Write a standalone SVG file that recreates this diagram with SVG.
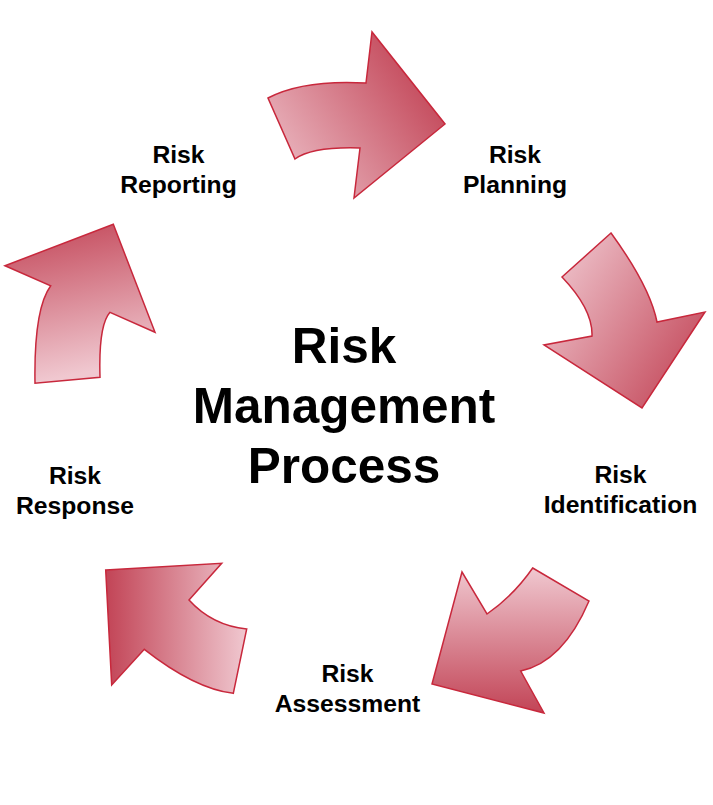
<svg xmlns="http://www.w3.org/2000/svg" width="713" height="805" viewBox="0 0 713 805">
<style>
.arrow{stroke:#c8283c;stroke-width:1.5;stroke-linejoin:miter}
.lbl{font-family:"Liberation Sans",Arial,sans-serif;font-weight:bold;font-size:24.7px;fill:#000;text-anchor:middle}
.title{font-family:"Liberation Sans",Arial,sans-serif;font-weight:bold;font-size:49.5px;fill:#000;text-anchor:middle}
</style>
<defs>
<linearGradient id="g1" x1="0" y1="1" x2="1" y2="0.35"><stop offset="0" stop-color="#f0c8d0"/><stop offset="1" stop-color="#c24456"/></linearGradient>
<linearGradient id="g2" x1="0" y1="0.15" x2="1" y2="0.85"><stop offset="0" stop-color="#f0c8d0"/><stop offset="1" stop-color="#c24456"/></linearGradient>
<linearGradient id="g3" x1="0" y1="0" x2="0" y2="1"><stop offset="0" stop-color="#f0c8d0"/><stop offset="1" stop-color="#c24456"/></linearGradient>
<linearGradient id="g4" x1="0" y1="0" x2="1" y2="0"><stop offset="0" stop-color="#c24456"/><stop offset="1" stop-color="#f0c8d0"/></linearGradient>
<linearGradient id="g5" x1="0" y1="0" x2="0.2" y2="1"><stop offset="0" stop-color="#c24456"/><stop offset="1" stop-color="#f0c8d0"/></linearGradient>
</defs>
<g id="connectors">
<path id="arrow-reporting-planning" class="arrow" fill="url(#g1)" d="M268,98 Q303,79.5 366,83 L372,32 L445,124 L354,198 L360,148 Q312.5,146.5 295,159 Z"/>
<path id="arrow-planning-identification" class="arrow" fill="url(#g2)" d="M611,233 L562,277 Q593,309.5 592,336 L544,345 L642,408 L705,312 L657,322 Q650,286.5 611,233 Z"/>
<path id="arrow-identification-assessment" class="arrow" fill="url(#g3)" d="M532.7,568 L589,601 Q563,662 520.7,671 L544,713 L432,684 L462,572 L487,614 Q513.5,595.6 532.7,568 Z"/>
<path id="arrow-assessment-response" class="arrow" fill="url(#g4)" d="M105.7,570 L221.7,563.3 L189,600 Q212.2,625.5 246.7,629 L233.3,693.3 Q194.6,688.7 144.3,649.3 L111.7,685 Z"/>
<path id="arrow-response-reporting" class="arrow" fill="url(#g5)" d="M5,265.7 L113.3,224.3 L155,332.3 L110,312.3 Q98.4,325.2 100,377.3 L35,383.3 Q33.75,308.9 50.7,285.7 Z"/>
</g>
<g id="title">
<text class="title" x="344" y="363">Risk</text>
<text class="title" x="344" y="423">Management</text>
<text class="title" x="344" y="483">Process</text>
</g>
<g id="node-reporting"><text class="lbl" x="178.5" y="163">Risk</text><text class="lbl" x="178.5" y="193">Reporting</text></g>
<g id="node-planning"><text class="lbl" x="515" y="163">Risk</text><text class="lbl" x="515" y="193">Planning</text></g>
<g id="node-identification"><text class="lbl" x="620.5" y="483">Risk</text><text class="lbl" x="620.5" y="513">Identification</text></g>
<g id="node-assessment"><text class="lbl" x="347.5" y="682">Risk</text><text class="lbl" x="347.5" y="712">Assessment</text></g>
<g id="node-response"><text class="lbl" x="75" y="484">Risk</text><text class="lbl" x="75" y="514">Response</text></g>
</svg>
